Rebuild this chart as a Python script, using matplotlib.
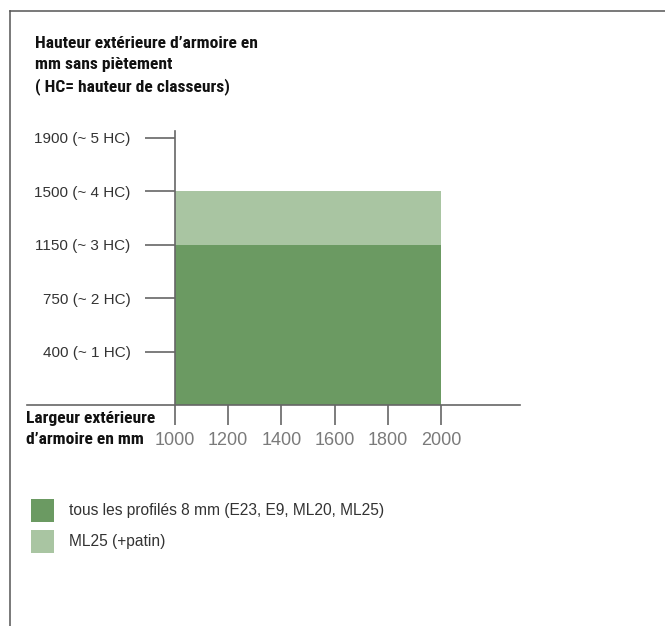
import matplotlib.pyplot as plt
from matplotlib.lines import Line2D

# data
height_mm = [400, 750, 1150, 1500, 1900]
height_hc = [1, 2, 3, 4, 5]
width_ticks = [1000, 1200, 1400, 1600, 1800, 2000]
width_range = (1000, 2000)
# top of each band, given in mm (mapped to the HC level)
band_top_mm = [1150, 1500]
band_labels = ["tous les profilés 8 mm (E23, E9, ML20, ML25)", "ML25 (+patin)"]
band_colors = ["#6b9a62", "#a9c5a2"]

W, H = 665, 626
fig = plt.figure(figsize=(W / 100, H / 100), dpi=100)

def fx(px):
    return px / W

def fy(py):
    return 1 - py / H

# axes placed so that x=1000..2000 sits at 175..441 px and level 0..5 at 405..138 px
ax = fig.add_axes([fx(27), fy(405), fx(520) - fx(27), fy(131) - fy(405)])
ax.set_xlim(443.6, 2297)
ax.set_ylim(0, 5.13)

# stacked bands
level = {mm: i + 1 for i, mm in enumerate(height_mm)}
bottom = 0
bars = []
for top, lab, col in zip(band_top_mm, band_labels, band_colors):
    b = ax.bar(width_range[0], level[top] - bottom, width=width_range[1] - width_range[0],
               bottom=bottom, align="edge", color=col, label=lab, zorder=1)
    bars.append(b)
    bottom = level[top]

axis_col = "#666666"
for s in ["top", "right"]:
    ax.spines[s].set_visible(False)
ax.spines["left"].set_position(("data", 1000))
ax.spines["left"].set_color(axis_col)
ax.spines["bottom"].set_color(axis_col)
ax.spines["left"].set_linewidth(1.2)
ax.spines["bottom"].set_linewidth(1.2)
ax.spines["left"].set_zorder(3)

ax.set_yticks(height_hc)
ax.set_yticklabels([f"{mm} (~ {hc} HC)" for mm, hc in zip(height_mm, height_hc)])
ax.set_xticks(width_ticks)
ax.set_xticklabels([str(v) for v in width_ticks])
ax.tick_params(axis="y", direction="out", length=21.6, width=1.2, color=axis_col,
               pad=10.5, labelsize=11, labelcolor="#333333")
ax.tick_params(axis="x", direction="out", length=14.4, width=1.2, color=axis_col,
               pad=5, labelsize=13, labelcolor="#7a7a7a")
for t in ax.get_xticklabels() + ax.get_yticklabels():
    t.set_family(["Liberation Sans", "DejaVu Sans"])

# titles
bold_font = dict(family=["Roboto Condensed", "DejaVu Sans"], weight="bold",
                 fontsize=12.6, color="#111111")
for i, line in enumerate(["Hauteur extérieure d’armoire en", "mm sans piètement",
                          "( HC= hauteur de classeurs)"]):
    fig.text(fx(35), fy(43 + 22 * i), line, va="center", ha="left", **bold_font)
fig.text(fx(26), fy(418), "Largeur extérieure", va="center", ha="left", **bold_font)
fig.text(fx(26), fy(440), "d’armoire en mm", va="center", ha="left", **bold_font)

# frame
fig.add_artist(Line2D([fx(10), fx(665)], [fy(11), fy(11)], color="#555555", lw=1.1))
fig.add_artist(Line2D([fx(10), fx(10)], [fy(11), fy(626)], color="#555555", lw=1.1))

# legend (square swatches ~23 px)
leg = fig.legend(handles=[b[0] for b in bars], labels=band_labels, loc="upper left",
                 bbox_to_anchor=(fx(31), fy(499)), frameon=False, borderpad=0,
                 borderaxespad=0, handlelength=1.5, handleheight=1.9,
                 handletextpad=0.95, labelspacing=0.5,
                 prop=dict(family=["Liberation Sans", "DejaVu Sans"], size=11.2))
for t in leg.get_texts():
    t.set_color("#333333")

fig.savefig("out.png", dpi=100)
